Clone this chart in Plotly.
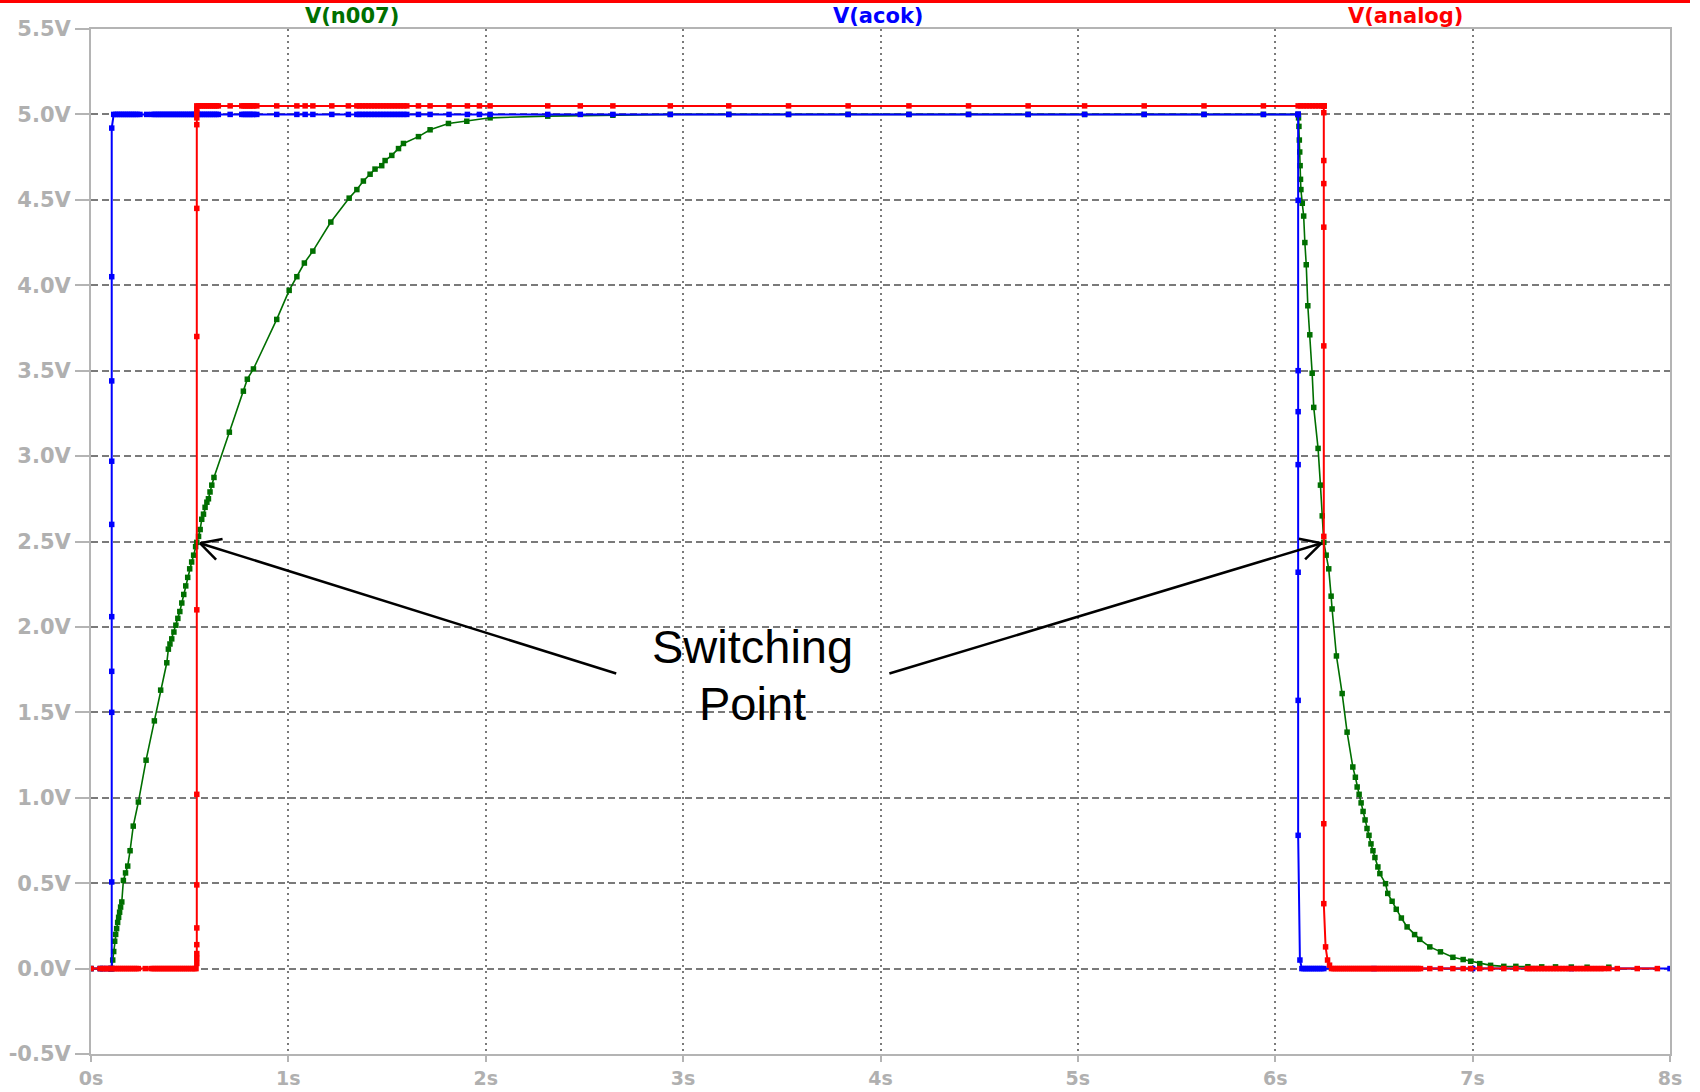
import math
import plotly.graph_objects as go

# ---------------- data ----------------
# V(analog)  (red)
analog_t = [0, 0.046, 0.06, 0.07, 0.08, 0.09, 0.10, 0.11, 0.12, 0.13, 0.14, 0.15, 0.16, 0.17, 0.18,
            0.19, 0.20, 0.21, 0.22, 0.23, 0.24, 0.275, 0.304, 0.315, 0.325, 0.335, 0.345, 0.355, 0.365,
            0.375, 0.385, 0.395, 0.405, 0.415, 0.425, 0.435, 0.445, 0.455, 0.465, 0.475, 0.485, 0.495,
            0.505, 0.515, 0.525, 0.532,
            0.536, 0.536, 0.536, 0.536, 0.536, 0.536, 0.536, 0.536, 0.536, 0.536, 0.536, 0.536, 0.536,
            0.536, 0.536,
            0.545, 0.555, 0.565, 0.575, 0.585, 0.595, 0.605, 0.615, 0.625, 0.635, 0.645, 0.705, 0.764,
            0.775, 0.785, 0.795, 0.805, 0.815, 0.825, 0.840, 0.941, 1.043, 1.085, 1.124, 1.220, 1.304,
            1.347, 1.36, 1.375, 1.39, 1.405, 1.42, 1.435, 1.45, 1.465, 1.48, 1.495, 1.51, 1.525, 1.54,
            1.555, 1.57, 1.585, 1.600, 1.659, 1.718, 1.814, 1.907, 1.968, 2.022, 2.314, 2.479, 2.644,
            2.935, 3.231, 3.534, 3.836, 4.144, 4.446, 4.748, 5.034, 5.336, 5.639, 5.940, 6.116, 6.13,
            6.145, 6.16, 6.175, 6.19, 6.205, 6.22, 6.235,
            6.246, 6.246, 6.246, 6.246, 6.246, 6.246, 6.246, 6.246, 6.246, 6.246, 6.246, 6.246, 6.246,
            6.255, 6.265, 6.275, 6.285, 6.295, 6.305, 6.315, 6.325, 6.335, 6.345, 6.355, 6.365, 6.375,
            6.385, 6.395, 6.405, 6.415, 6.425, 6.435, 6.445, 6.455, 6.465, 6.475, 6.485, 6.495, 6.505,
            6.515, 6.525, 6.535, 6.545, 6.555, 6.565, 6.575, 6.585, 6.595, 6.605, 6.615, 6.625, 6.635,
            6.645, 6.655, 6.665, 6.675, 6.685, 6.695, 6.705, 6.715, 6.725, 6.736, 6.783, 6.837, 6.900,
            6.952, 6.990, 7.036, 7.091, 7.158, 7.219, 7.277, 7.29, 7.305, 7.32, 7.335, 7.35, 7.365,
            7.38, 7.395, 7.41, 7.425, 7.44, 7.455, 7.47, 7.485, 7.50, 7.515, 7.53, 7.545, 7.56, 7.575,
            7.59, 7.605, 7.62, 7.635, 7.65, 7.665, 7.690, 7.733, 7.834, 7.936, 8.0]
analog_v = [0] * 46 + \
           [0.03, 0.06, 0.088, 0.14, 0.238, 0.49, 1.02, 2.10, 3.70, 4.45, 4.94, 4.98, 5.01, 5.03, 5.05] + \
           [5.05] * 77 + \
           [5.05, 5.01, 4.73, 4.595, 4.34, 3.645, 2.53, 0.848, 0.38, 0.127, 0.05, 0.02, 0] + \
           [0] * 85

# V(acok)  (blue)
acok_t = [0, 0.046, 0.06, 0.08, 0.10,
          0.105, 0.105, 0.105, 0.105, 0.105, 0.105, 0.105, 0.105, 0.105, 0.105,
          0.115, 0.125, 0.135, 0.145, 0.155, 0.165, 0.175, 0.185, 0.195, 0.205, 0.215, 0.225,
          0.235, 0.248, 0.282, 0.308, 0.32, 0.33, 0.34, 0.35, 0.36, 0.37, 0.38, 0.39, 0.40, 0.41,
          0.42, 0.43, 0.44, 0.45, 0.46, 0.47, 0.48, 0.49, 0.50, 0.51, 0.52, 0.527, 0.536,
          0.545, 0.555, 0.565, 0.575, 0.585, 0.595, 0.605, 0.615, 0.625, 0.635, 0.645, 0.705, 0.764,
          0.775, 0.785, 0.795, 0.805, 0.815, 0.825, 0.840, 0.941, 1.043, 1.085, 1.124, 1.220, 1.304,
          1.347, 1.36, 1.375, 1.39, 1.405, 1.42, 1.435, 1.45, 1.465, 1.48, 1.495, 1.51, 1.525, 1.54,
          1.555, 1.57, 1.585, 1.600, 1.659, 1.718, 1.814, 1.907, 1.968, 2.022, 2.314, 2.479, 2.644,
          2.935, 3.231, 3.534, 3.836, 4.144, 4.446, 4.748, 5.034, 5.336, 5.639, 5.940,
          6.116, 6.116, 6.116, 6.116, 6.116, 6.116, 6.116, 6.116, 6.116, 6.116,
          6.125, 6.135, 6.145, 6.155, 6.165, 6.175, 6.185, 6.195, 6.205, 6.215, 6.225, 6.235, 6.246,
          6.5, 7.0, 7.5, 8.0]
acok_v = [0] * 5 + \
         [0, 0.507, 1.50, 1.74, 2.06, 2.60, 2.97, 3.44, 4.05, 4.92] + \
         [5.0] * 105 + \
         [5.0, 4.497, 3.50, 3.26, 2.95, 2.32, 1.57, 0.78, 0.05, 0] + \
         [0] * 17

# V(n007)  (green)
n007_t = [0, 0.05, 0.10, 0.105, 0.11, 0.115, 0.12, 0.125, 0.13, 0.135, 0.14, 0.145, 0.15, 0.156,
          0.164, 0.175, 0.186, 0.198, 0.214, 0.240, 0.279, 0.321, 0.353, 0.384, 0.392, 0.40, 0.409,
          0.42, 0.43, 0.44, 0.45, 0.46, 0.47, 0.48, 0.49, 0.50, 0.51, 0.52, 0.53, 0.536, 0.545,
          0.553, 0.561, 0.57, 0.578, 0.587, 0.595, 0.603, 0.612, 0.623, 0.701, 0.772, 0.792, 0.823,
          0.941, 1.004, 1.043, 1.081, 1.124, 1.215, 1.308, 1.347, 1.380, 1.414, 1.439, 1.473, 1.490,
          1.524, 1.558, 1.583, 1.659, 1.718, 1.811, 1.904, 2.022, 2.314, 2.644, 2.935, 3.231, 3.534,
          3.836, 4.144, 4.446, 4.748, 5.034, 5.336, 5.639, 5.940, 6.116,
          6.118, 6.12, 6.122, 6.124, 6.126, 6.128, 6.13, 6.137, 6.144, 6.150, 6.157, 6.165, 6.175,
          6.187, 6.195, 6.217, 6.229, 6.238, 6.246, 6.258, 6.271, 6.283, 6.288, 6.310, 6.339, 6.364,
          6.393, 6.406, 6.415, 6.425, 6.435, 6.445, 6.455, 6.465, 6.475, 6.485, 6.495, 6.505, 6.52,
          6.530, 6.559, 6.570, 6.592, 6.613, 6.639, 6.668, 6.706, 6.732, 6.783, 6.837, 6.900, 6.952,
          6.990, 7.036, 7.091, 7.158, 7.219, 7.28, 7.35, 7.42, 7.50, 7.58, 7.69]
n007_v = [0, 0, 0, 0, 0.05, 0.10, 0.16, 0.20, 0.234, 0.27, 0.30, 0.33, 0.36, 0.39,
          0.516, 0.56, 0.60, 0.69, 0.834, 0.975, 1.22, 1.45, 1.63, 1.79, 1.87, 1.90, 1.93,
          1.97, 2.01, 2.05, 2.09, 2.14, 2.19, 2.24, 2.29, 2.34, 2.38, 2.42, 2.47, 2.495, 2.53,
          2.57, 2.63, 2.66, 2.70, 2.73, 2.75, 2.79, 2.83, 2.875, 3.14, 3.38, 3.45, 3.51,
          3.80, 3.97, 4.05, 4.13, 4.20, 4.37, 4.51, 4.56, 4.61, 4.65, 4.68, 4.70, 4.73,
          4.76, 4.80, 4.83, 4.87, 4.91, 4.947, 4.96, 4.98, 4.99, 4.995, 5.0, 5.0, 5.0,
          5.0, 5.0, 5.0, 5.0, 5.0, 5.0, 5.0, 5.0, 5.0,
          4.98, 4.93, 4.85, 4.78, 4.70, 4.62, 4.56, 4.48, 4.405, 4.25, 4.12, 3.88, 3.71,
          3.485, 3.285, 3.045, 2.83, 2.65, 2.495, 2.42, 2.34, 2.18, 2.105, 1.83, 1.61, 1.384,
          1.18, 1.12, 1.063, 1.02, 0.97, 0.92, 0.87, 0.82, 0.78, 0.73, 0.69, 0.65, 0.595,
          0.556, 0.497, 0.44, 0.394, 0.347, 0.296, 0.244, 0.199, 0.171, 0.127, 0.098, 0.066, 0.053,
          0.043, 0.029, 0.019, 0.013, 0.013, 0.011, 0.010, 0.010, 0.009, 0.008, 0.008]

x_tick_vals = [0, 1, 2, 3, 4, 5, 6, 7, 8]
x_tick_text = ["0s", "1s", "2s", "3s", "4s", "5s", "6s", "7s", "8s"]
y_tick_vals = [-0.5, 0.0, 0.5, 1.0, 1.5, 2.0, 2.5, 3.0, 3.5, 4.0, 4.5, 5.0, 5.5]
y_tick_text = ["-0.5V", "0.0V", "0.5V", "1.0V", "1.5V", "2.0V", "2.5V", "3.0V", "3.5V",
               "4.0V", "4.5V", "5.0V", "5.5V"]

series_names = ["V(n007)", "V(acok)", "V(analog)"]
series_colors = ["#006f00", "#0000ff", "#ff0000"]

# annotation: "Switching Point" with two arrows (tail -> tip)
arrow_tails = [(2.661, 1.727), (4.045, 1.727)]
arrow_tips = [(0.552, 2.49), (6.234, 2.49)]

# ---------------- layout geometry ----------------
W, H = 1700, 1092
ML, MR, MT, MB = 91, 30, 29, 38
PW, PH = W - ML - MR, H - MT - MB
XR = (0, 8)
YR = (-0.5, 5.5)

fig = go.Figure()
data = [(n007_t, n007_v), (acok_t, acok_v), (analog_t, analog_v)]
for (tt, vv), name, col in zip(data, series_names, series_colors):
    fig.add_trace(go.Scatter(
        x=tt, y=vv, mode="lines+markers", name=name,
        line=dict(color=col, width=1.6 if name == "V(n007)" else 2),
        marker=dict(symbol="square", size=5.5, color=col, line=dict(width=0)),
        showlegend=False, hoverinfo="skip"))

# legend-like titles on top
title_x = [0.1653, 0.4984, 0.8328]
for name, col, px in zip(series_names, series_colors, title_x):
    fig.add_annotation(text=name, x=px, y=1 + 13 / PH, xref="paper", yref="paper",
                       showarrow=False, xanchor="center", yanchor="middle",
                       font=dict(family="DejaVu Sans", size=21, color=col, weight="bold"))

# Switching Point text
fig.add_annotation(text="Switching", x=3.35, y=1.885, xref="x", yref="y", showarrow=False,
                   xanchor="center", yanchor="middle",
                   font=dict(family="Liberation Sans", size=47, color="black"))
fig.add_annotation(text="Point", x=3.35, y=1.55, xref="x", yref="y", showarrow=False,
                   xanchor="center", yanchor="middle",
                   font=dict(family="Liberation Sans", size=47, color="black"))

# arrows with open chevron heads
sx = PW / (XR[1] - XR[0])
sy = PH / (YR[1] - YR[0])
shapes = []
for (tx, ty), (hx, hy) in zip(arrow_tails, arrow_tips):
    shapes.append(dict(type="line", xref="x", yref="y", x0=tx, y0=ty, x1=hx, y1=hy,
                       line=dict(color="black", width=2.5)))
    dxp = (tx - hx) * sx
    dyp = (ty - hy) * sy
    ang = math.atan2(dyp, dxp)
    for da in (math.radians(28), -math.radians(28)):
        ex = hx + 23 * math.cos(ang + da) / sx
        ey = hy + 23 * math.sin(ang + da) / sy
        shapes.append(dict(type="line", xref="x", yref="y", x0=hx, y0=hy, x1=ex, y1=ey,
                           line=dict(color="black", width=2.5)))

# red rule at the very top of the picture
shapes.append(dict(type="line", xref="paper", yref="paper",
                   x0=-ML / PW, x1=(1690 - ML) / PW,
                   y0=1 + (MT - 1.5) / PH, y1=1 + (MT - 1.5) / PH,
                   line=dict(color="#ff0000", width=3)))

y_tick_font = dict(family="DejaVu Sans", size=21, color="#b0b0b0", weight="bold")
x_tick_font = dict(family="DejaVu Sans", size=19, color="#b0b0b0", weight="bold")
fig.update_layout(
    width=W, height=H,
    margin=dict(l=ML, r=MR, t=MT, b=MB, autoexpand=False),
    paper_bgcolor="white", plot_bgcolor="white",
    shapes=shapes,
    xaxis=dict(range=list(XR), tickvals=x_tick_vals, ticktext=x_tick_text,
               showgrid=True, gridcolor="#7a7a7a", griddash="2px,4px", gridwidth=2,
               showline=True, linecolor="#b4b4b4", linewidth=2, mirror=True,
               ticks="outside", ticklen=6, tickwidth=2, tickcolor="#b4b4b4",
               zeroline=False, tickfont=x_tick_font),
    yaxis=dict(range=list(YR), tickvals=y_tick_vals, ticktext=y_tick_text,
               showgrid=True, gridcolor="#7a7a7a", griddash="7px,4px", gridwidth=1.5,
               showline=True, linecolor="#b4b4b4", linewidth=2, mirror=True,
               ticks="outside", ticklen=14, tickwidth=2, tickcolor="#b4b4b4",
               zeroline=False, tickfont=y_tick_font),
)

fig.write_html("out.html",
               config={"displayModeBar": False},
               post_script="document.body.style.margin='0';document.body.style.padding='0';"
                           "document.documentElement.style.overflow='hidden';")
